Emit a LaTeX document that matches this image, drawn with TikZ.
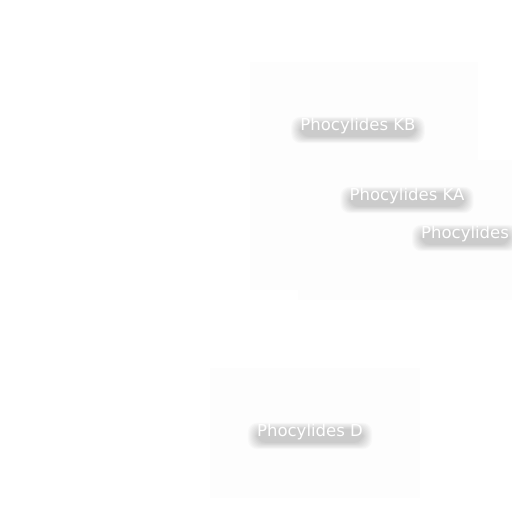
\documentclass[tikz,border=0pt]{standalone}
\usepackage{fontspec}
\setmainfont{DejaVu Sans}
\usetikzlibrary{calc,backgrounds}
\begin{document}
\begin{tikzpicture}[x=1pt,y=-1pt]
    \tikzstyle{crater} = [text=white, font=\fontsize{16.5}{19}\selectfont, inner sep=0pt]
    \tikzstyle{halo} = [fill=black, opacity=0.018, rounded corners=9pt]
    \tikzstyle{panel} = [fill=black!0.6, draw=none]

    \useasboundingbox (0,0) rectangle (512,512);

    % labels
    \node [crater] (kb) at (358,126) {Phocylides KB};
    \node [crater] (ka) at (407,196) {Phocylides KA};
    \node [crater, anchor=west] (phoc) at (421,234) {Phocylides};
    \node [crater] (d) at (310,432) {Phocylides D};

    \begin{pgfonlayer}{background}
      % faint map panels
      \fill [panel] (250,62) rectangle (478,290);
      \fill [panel] (298,160) rectangle (512,300);
      \fill [panel] (210,368) rectangle (420,498);
      % soft shadows under the labels
      \foreach \n in {kb,ka,phoc,d}
        \foreach \k in {0,...,9}
          \fill [halo] ($(\n.north west)+(-9+\k,-1+0.7*\k)$) rectangle ($(\n.south east)+(9-\k,9-0.7*\k)$);
    \end{pgfonlayer}
\end{tikzpicture}
\end{document}
